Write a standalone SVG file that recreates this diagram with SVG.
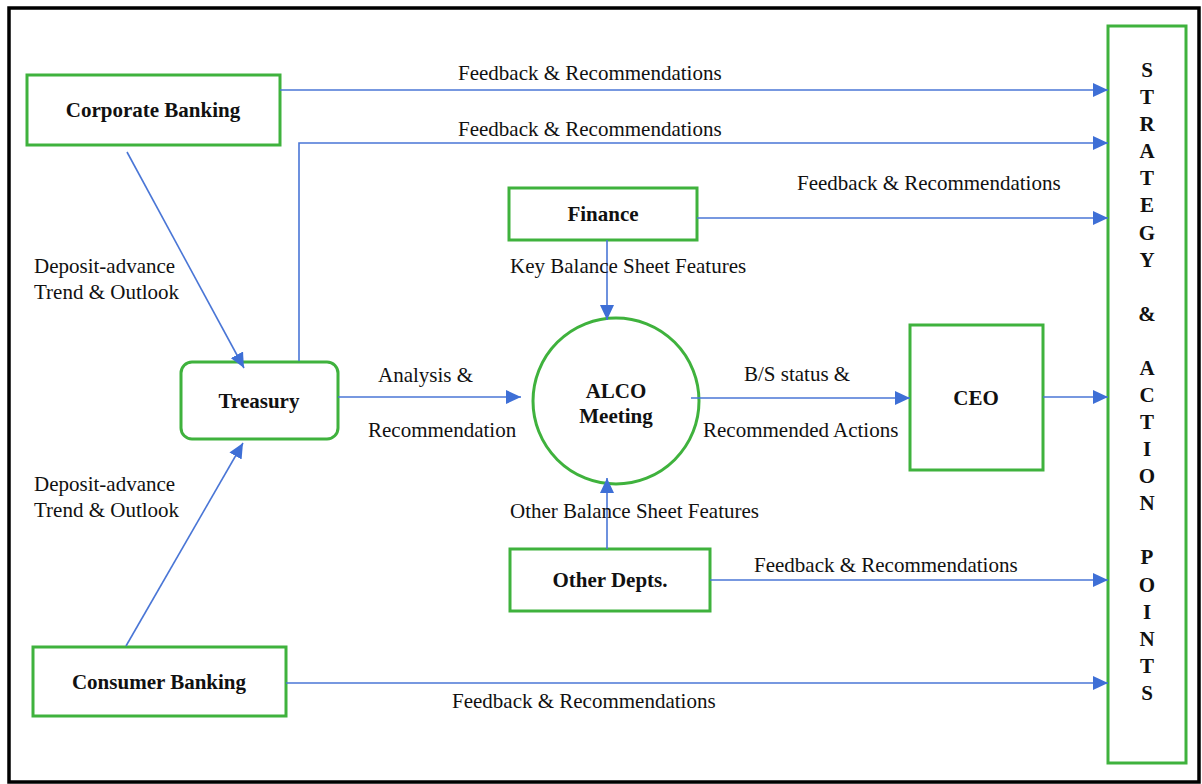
<svg xmlns="http://www.w3.org/2000/svg" width="1202" height="784" viewBox="0 0 1202 784">
<style>
.box{fill:#fff;stroke:#3fb23d;stroke-width:3}
.lbl{font-family:"Liberation Serif",serif;font-size:21px;font-weight:bold;fill:#111;text-anchor:middle}
.t{font-family:"Liberation Serif",serif;font-size:21px;fill:#111}
.c{fill:none;stroke:#4a76d6;stroke-width:1.6}
.v{font-family:"Liberation Serif",serif;font-size:21px;font-weight:bold;fill:#111;text-anchor:middle}
</style>
<defs>
<marker id="ah" viewBox="0 0 15 14" refX="15" refY="7" markerWidth="15" markerHeight="14" markerUnits="userSpaceOnUse" orient="auto">
<path d="M0,0 L15,7 L0,14 z" fill="#3e6fd6"/>
</marker>
</defs>
<rect x="0" y="0" width="1202" height="784" fill="#fff"/>
<rect x="9" y="8" width="1190" height="774" fill="none" stroke="#000" stroke-width="3.5"/>

<g id="corporate-banking">
<rect class="box" x="27" y="75" width="253" height="70"/>
<text class="lbl" x="153" y="117">Corporate Banking</text>
</g>
<g id="consumer-banking">
<rect class="box" x="33" y="647" width="253" height="69"/>
<text class="lbl" x="159" y="689">Consumer Banking</text>
</g>
<g id="treasury">
<rect class="box" x="181" y="362" width="157" height="77" rx="11"/>
<text class="lbl" x="259" y="408">Treasury</text>
</g>
<g id="finance">
<rect class="box" x="509" y="188" width="188" height="52"/>
<text class="lbl" x="603" y="221">Finance</text>
</g>
<g id="alco">
<circle cx="616" cy="401" r="83" fill="#fff" stroke="#3fb23d" stroke-width="3"/>
<text class="lbl" x="616" y="398">ALCO</text>
<text class="lbl" x="616" y="423">Meeting</text>
</g>
<g id="other-depts">
<rect class="box" x="510" y="549" width="200" height="62"/>
<text class="lbl" x="610" y="587">Other Depts.</text>
</g>
<g id="ceo">
<rect class="box" x="910" y="325" width="133" height="145"/>
<text class="lbl" x="976" y="405">CEO</text>
</g>
<g id="strategy">
<rect class="box" x="1108" y="26" width="78" height="737"/>
<text class="v" x="1147" y="77">S</text>
<text class="v" x="1147" y="104">T</text>
<text class="v" x="1147" y="131">R</text>
<text class="v" x="1147" y="158">A</text>
<text class="v" x="1147" y="185">T</text>
<text class="v" x="1147" y="212">E</text>
<text class="v" x="1147" y="240">G</text>
<text class="v" x="1147" y="267">Y</text>
<text class="v" x="1147" y="321">&amp;</text>
<text class="v" x="1147" y="375">A</text>
<text class="v" x="1147" y="402">C</text>
<text class="v" x="1147" y="429">T</text>
<text class="v" x="1147" y="456">I</text>
<text class="v" x="1147" y="483">O</text>
<text class="v" x="1147" y="510">N</text>
<text class="v" x="1147" y="564">P</text>
<text class="v" x="1147" y="592">O</text>
<text class="v" x="1147" y="619">I</text>
<text class="v" x="1147" y="646">N</text>
<text class="v" x="1147" y="673">T</text>
<text class="v" x="1147" y="700">S</text>
</g>

<g id="connectors">
<path class="c" d="M280,90 H1108" marker-end="url(#ah)"/>
<path class="c" d="M299,361 V143 H1108" marker-end="url(#ah)"/>
<path class="c" d="M697,218 H1108" marker-end="url(#ah)"/>
<path class="c" d="M1043,397 H1108" marker-end="url(#ah)"/>
<path class="c" d="M710,580 H1108" marker-end="url(#ah)"/>
<path class="c" d="M286,683 H1108" marker-end="url(#ah)"/>
<path class="c" d="M127,152 L244,368" marker-end="url(#ah)"/>
<path class="c" d="M126,646 L243,443" marker-end="url(#ah)"/>
<path class="c" d="M338,397 H521" marker-end="url(#ah)"/>
<path class="c" d="M691,398 H910" marker-end="url(#ah)"/>
<path class="c" d="M607,240 V320" marker-end="url(#ah)"/>
<path class="c" d="M607,549 V478" marker-end="url(#ah)"/>
</g>

<g id="edge-labels">
<text class="t" x="458" y="80">Feedback &amp; Recommendations</text>
<text class="t" x="458" y="136">Feedback &amp; Recommendations</text>
<text class="t" x="797" y="190">Feedback &amp; Recommendations</text>
<text class="t" x="754" y="572">Feedback &amp; Recommendations</text>
<text class="t" x="452" y="708">Feedback &amp; Recommendations</text>
<text class="t" x="34" y="273">Deposit-advance</text>
<text class="t" x="34" y="299">Trend &amp; Outlook</text>
<text class="t" x="34" y="491">Deposit-advance</text>
<text class="t" x="34" y="517">Trend &amp; Outlook</text>
<text class="t" x="378" y="382">Analysis &amp;</text>
<text class="t" x="368" y="437">Recommendation</text>
<text class="t" x="744" y="381">B/S status &amp;</text>
<text class="t" x="703" y="437">Recommended Actions</text>
<text class="t" x="510" y="273">Key Balance Sheet Features</text>
<text class="t" x="510" y="518">Other Balance Sheet Features</text>
</g>
</svg>
